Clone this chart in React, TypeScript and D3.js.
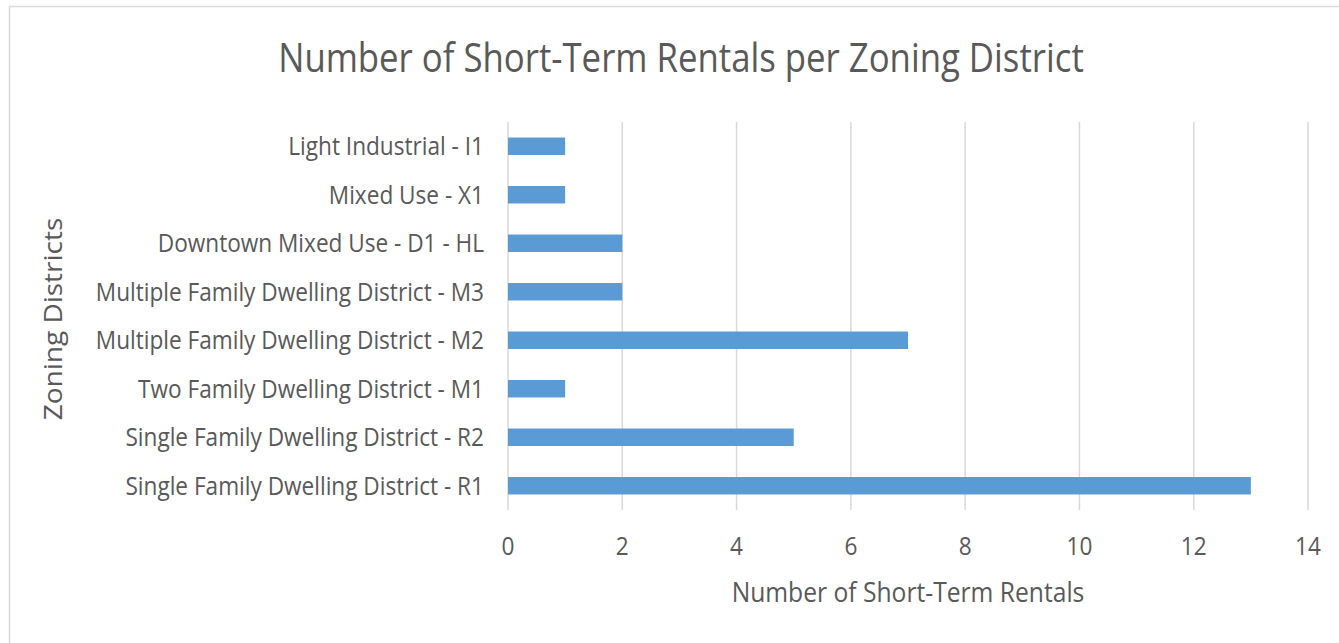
import React from "react";
import * as d3 from "d3";

const categories = [
  "Light Industrial - I1",
  "Mixed Use - X1",
  "Downtown Mixed Use - D1 - HL",
  "Multiple Family Dwelling District - M3",
  "Multiple Family Dwelling District - M2",
  "Two Family Dwelling District - M1",
  "Single Family Dwelling District - R2",
  "Single Family Dwelling District - R1",
];
const values = [1, 1, 2, 2, 7, 1, 5, 13];
const xTicks = [0, 2, 4, 6, 8, 10, 12, 14];

const W = 1339;
const H = 643;
const left = 508;
const right = 1308;
const top = 122;
const bottom = 510;
const textColor = "#595959";
const font = "'Open Sans', sans-serif";
const SX = 0.88;

function T({ x, y, size, anchor = "middle", rotate = 0, children, dy }: any) {
  return (
    <text
      transform={`translate(${x},${y}) scale(${SX},1)${rotate ? ` rotate(${rotate})` : ""}`}
      textAnchor={anchor}
      fontFamily={font}
      fontSize={size}
      fill={textColor}
      dy={dy}
    >
      {children}
    </text>
  );
}

export default function App() {
  const x = d3.scaleLinear().domain([0, 14]).range([left, right]);
  const y = d3.scaleBand().domain(categories).range([top, bottom]).paddingInner(0.64).paddingOuter(0.32);
  return (
    <svg width={W} height={H} style={{ position: "absolute", left: 0, top: 0 }}>
      <rect x={0} y={0} width={W} height={H} fill="#fff" />
      <rect x={9.5} y={6.5} width={W} height={H} fill="#fff" stroke="#d9d9d9" strokeWidth={1.5} />
      <T x={681} y={72} size={39.5}>Number of Short-Term Rentals per Zoning District</T>
      {xTicks.map((t) => (
        <g key={t}>
          <line x1={x(t)} x2={x(t)} y1={top} y2={bottom} stroke="#d9d9d9" strokeWidth={1.5} />
          <T x={x(t)} y={555} size={25.7}>{t}</T>
        </g>
      ))}
      {categories.map((c, i) => (
        <g key={c}>
          <rect x={x(0)} y={y(c)} width={x(values[i]) - x(0)} height={y.bandwidth()} fill="#5b9bd5" />
          <T x={484} y={(y(c) as number) + y.bandwidth() / 2 + 9} size={25.7} anchor="end">{c}</T>
        </g>
      ))}
      <T x={908} y={602} size={28}>Number of Short-Term Rentals</T>
      <T x={62} y={319} size={28} rotate={-90}>Zoning Districts</T>
    </svg>
  );
}
